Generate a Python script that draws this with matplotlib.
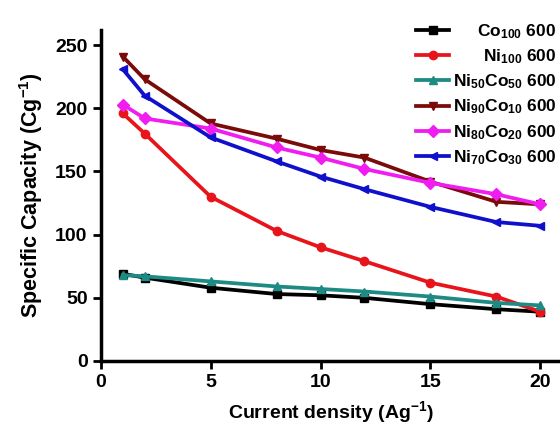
import matplotlib.pyplot as plt

# current density values (A/g)
current = [1, 2, 5, 8, 10, 12, 15, 18, 20]

# specific capacity (C/g) for each sample
co100 = [69, 66, 58, 53, 52, 50, 45, 41, 39]
ni100 = [196, 180, 130, 103, 90, 79, 62, 51, 39]
ni50co50 = [68, 67, 63, 59, 57, 55, 51, 46, 44]
ni90co10 = [241, 223, 188, 176, 167, 161, 142, 126, 124]
ni80co20 = [203, 192, 184, 169, 161, 152, 141, 132, 124]
ni70co30 = [231, 210, 177, 158, 146, 136, 122, 110, 107]

labels = ['Co$_{100}$ 600', 'Ni$_{100}$ 600', 'Ni$_{50}$Co$_{50}$ 600',
          'Ni$_{90}$Co$_{10}$ 600', 'Ni$_{80}$Co$_{20}$ 600', 'Ni$_{70}$Co$_{30}$ 600']
series = [co100, ni100, ni50co50, ni90co10, ni80co20, ni70co30]
colors = ['black', '#e8141c', '#1d8a84', '#7b0a0a', '#f01cf0', '#1010cc']
markers = ['s', 'o', '^', 'v', 'D', '<']

plt.rcParams['font.family'] = ['Liberation Sans', 'DejaVu Sans']
plt.rcParams['font.weight'] = 'bold'
plt.rcParams['mathtext.fontset'] = 'custom'
plt.rcParams['mathtext.rm'] = 'Liberation Sans:bold'
plt.rcParams['mathtext.default'] = 'rm'

fig = plt.figure(figsize=(5.6, 4.25), dpi=100)
ax = fig.add_axes([0.18, 0.1506, 0.82, 0.7788])

for y, lab, c, m in zip(series, labels, colors, markers):
    ax.plot(current, y, color=c, marker=m, markersize=6, linewidth=2.7, label=lab)

ax.set_xlim(0, 20.9)
ax.set_ylim(0, 262)
ax.set_xticks([0, 5, 10, 15, 20])
ax.set_yticks([0, 50, 100, 150, 200, 250])

ax.spines['top'].set_visible(False)
ax.spines['right'].set_visible(False)
ax.spines['left'].set_linewidth(2.5)
ax.spines['bottom'].set_linewidth(2.5)
ax.tick_params(width=2, length=6, labelsize=14)

ax.set_xlabel('Current density (Ag$^{-1}$)', fontsize=14, fontweight='bold', labelpad=6)
ax.set_ylabel('Specific Capacity (Cg$^{-1}$)', fontsize=15.5, fontweight='bold', labelpad=7)

leg = ax.legend(loc='upper right', bbox_to_anchor=(1.0, 1.035), frameon=False,
                fontsize=12.5, handlelength=1.9, labelspacing=0.38, handletextpad=0.2,
                borderpad=0.2, borderaxespad=0)

# right-align legend text
renderer = fig.canvas.get_renderer()
widths = [t.get_window_extent(renderer).width for t in leg.get_texts()]
for t, w in zip(leg.get_texts(), widths):
    t.set_position((max(widths) - w, 0))

fig.savefig('out.png', dpi=100)
